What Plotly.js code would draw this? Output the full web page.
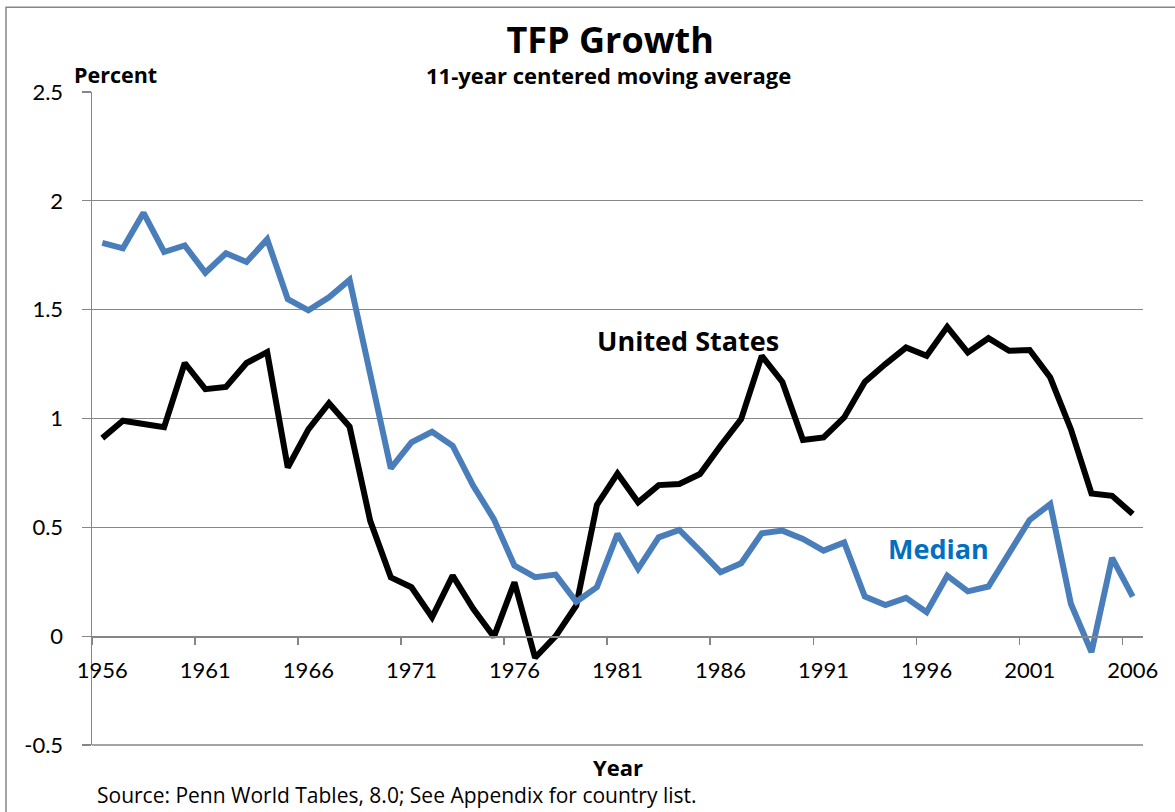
<!DOCTYPE html>
<html>
<head>
<meta charset="utf-8">
<script src="https://cdn.plot.ly/plotly-3.0.1.min.js"></script>
<style>
  html, body { margin: 0; padding: 0; background: #ffffff; }
  #chart { width: 1175px; height: 812px; }
</style>
</head>
<body>
<div id="chart"></div>
<script>
// ---- data ----
var years = [1956, 1957, 1958, 1959, 1960, 1961, 1962, 1963, 1964, 1965,
             1966, 1967, 1968, 1969, 1970, 1971, 1972, 1973, 1974, 1975,
             1976, 1977, 1978, 1979, 1980, 1981, 1982, 1983, 1984, 1985,
             1986, 1987, 1988, 1989, 1990, 1991, 1992, 1993, 1994, 1995,
             1996, 1997, 1998, 1999, 2000, 2001, 2002, 2003, 2004, 2005, 2006];

var unitedStates = [0.91, 0.99, 0.975, 0.96, 1.255, 1.135, 1.145, 1.255, 1.305, 0.775,
                    0.95, 1.07, 0.962, 0.53, 0.27, 0.225, 0.087, 0.278, 0.126, -0.003,
                    0.248, -0.099, 0.0, 0.141, 0.603, 0.747, 0.615, 0.694, 0.699, 0.745,
                    0.875, 0.997, 1.288, 1.168, 0.901, 0.913, 1.005, 1.168, 1.25, 1.326,
                    1.288, 1.421, 1.303, 1.369, 1.311, 1.315, 1.188, 0.951, 0.656, 0.645, 0.561];

var median = [1.807, 1.782, 1.945, 1.765, 1.795, 1.67, 1.759, 1.719, 1.823, 1.548,
              1.497, 1.557, 1.637, 1.2, 0.771, 0.89, 0.939, 0.875, 0.691, 0.538,
              0.324, 0.271, 0.283, 0.158, 0.225, 0.47, 0.309, 0.454, 0.488, 0.393,
              0.294, 0.335, 0.473, 0.485, 0.447, 0.393, 0.431, 0.182, 0.143, 0.176,
              0.11, 0.278, 0.206, 0.228, 0.385, 0.534, 0.607, 0.149, -0.073, 0.36, 0.182];

var xTickVals = [1956, 1961, 1966, 1971, 1976, 1981, 1986, 1991, 1996, 2001, 2006];
var xTickText = ['1956', '1961', '1966', '1971', '1976', '1981', '1986', '1991', '1996', '2001', '2006'];
var xTickMarks = [1955.5, 1960.5, 1965.5, 1970.5, 1975.5, 1980.5, 1985.5, 1990.5, 1995.5, 2000.5, 2005.5];
var yTickVals = [-0.5, 0, 0.5, 1, 1.5, 2, 2.5];
var yTickText = ['-0.5', '0', '0.5', '1', '1.5', '2', '2.5'];

// ---- styles ----
var FONT = 'Lato, "Open Sans", sans-serif';
var FONT_TXT = '"Open Sans", Lato, sans-serif';
var GRID = '#868686';
var BLUE_LINE = '#4A7EBB';
var BLUE_TEXT = '#0070C0';

var traces = [
  {
    x: years, y: median, type: 'scatter', mode: 'lines', name: 'Median',
    xaxis: 'x2', yaxis: 'y',
    line: { color: BLUE_LINE, width: 6 }
  },
  {
    x: years, y: unitedStates, type: 'scatter', mode: 'lines', name: 'United States',
    xaxis: 'x', yaxis: 'y',
    line: { color: '#000000', width: 6 }
  }
];

var yMin = -0.5, yMax = 2.5;
var zeroPos = (0 - yMin) / (yMax - yMin);

var layout = {
  width: 1175, height: 812,
  margin: { l: 92, r: 32, t: 92, b: 67, pad: 0 },
  paper_bgcolor: '#ffffff', plot_bgcolor: '#ffffff',
  showlegend: false,
  font: { family: FONT, color: '#000000', size: 22 },
  title: {
    text: '<b>TFP Growth</b>',
    font: { family: FONT_TXT, size: 36, color: '#000000' },
    xref: 'paper', x: 0.493, xanchor: 'center',
    yref: 'container', y: 1 - 40 / 812, yanchor: 'middle'
  },
  xaxis: {
    type: 'linear', range: [1955.5, 2006.5],
    anchor: 'free', position: zeroPos,
    showgrid: false, zeroline: false,
    showline: true, linecolor: GRID, linewidth: 1.5,
    tickmode: 'array', tickvals: xTickVals, ticktext: xTickText,
    ticks: 'outside', ticklen: 8, tickcolor: 'rgba(0,0,0,0)',
    ticklabelstandoff: 6,
    tickfont: { family: FONT, size: 22, color: '#000000' }
  },
  xaxis2: {
    type: 'linear', overlaying: 'x', matches: 'x', range: [1955.5, 2006.5],
    anchor: 'free', position: zeroPos,
    showgrid: false, zeroline: false, showline: false,
    tickmode: 'array', tickvals: xTickMarks,
    ticks: 'outside', ticklen: 8, tickwidth: 1.5, tickcolor: GRID,
    showticklabels: false
  },
  yaxis: {
    range: [yMin, yMax], domain: [0, 1],
    tickmode: 'array', tickvals: yTickVals, ticktext: yTickText,
    showgrid: true, gridcolor: GRID, gridwidth: 1.3,
    zeroline: false,
    showline: true, linecolor: GRID, linewidth: 1.5,
    ticks: 'outside', ticklen: 9, tickwidth: 1.3, tickcolor: GRID,
    ticklabelstandoff: 14,
    tickfont: { family: FONT, size: 22, color: '#000000' }
  },
  annotations: [
    { text: '<b>11-year centered moving average</b>', xref: 'paper', yref: 'paper',
      x: 0.4919, y: 1.0266, xanchor: 'center', yanchor: 'middle', showarrow: false,
      font: { family: FONT_TXT, size: 22, color: '#000000' } },
    { text: '<b>Percent</b>', xref: 'paper', yref: 'paper',
      x: 0.0224, y: 1.0266, xanchor: 'center', yanchor: 'middle', showarrow: false,
      font: { family: FONT_TXT, size: 21.5, color: '#000000' } },
    { text: '<b>Year</b>', xref: 'paper', yref: 'paper',
      x: 0.5, y: -0.033, xanchor: 'center', yanchor: 'middle', showarrow: false,
      font: { family: FONT_TXT, size: 22, color: '#000000' } },
    { text: 'Source: Penn World Tables, 8.0; See Appendix for country list.', xref: 'paper', yref: 'paper',
      x: 0.0029, y: -0.0765, xanchor: 'left', yanchor: 'middle', showarrow: false,
      font: { family: FONT_TXT, size: 21, color: '#000000' } },
    { text: '<b>United States</b>', xref: 'x', yref: 'y',
      x: 1984.4, y: 1.36, xanchor: 'center', yanchor: 'middle', showarrow: false,
      font: { family: FONT_TXT, size: 27, color: '#000000' } },
    { text: '<b>Median</b>', xref: 'x', yref: 'y',
      x: 1996.6, y: 0.405, xanchor: 'center', yanchor: 'middle', showarrow: false,
      font: { family: FONT_TXT, size: 27, color: BLUE_TEXT } }
  ],
  shapes: [
    { type: 'rect', xref: 'paper', yref: 'paper',
      x0: (6 - 92) / 1051, x1: 1.2, y0: -0.3, y1: (745 - 7) / 653.3,
      line: { color: GRID, width: 1.5 }, fillcolor: 'rgba(0,0,0,0)', layer: 'below' },
    { type: 'line', xref: 'paper', yref: 'paper',
      x0: 0, x1: 1, y0: 0, y1: 0,
      line: { color: GRID, width: 1.5 }, layer: 'above' }
  ]
};

Plotly.newPlot('chart', traces, layout, { displayModeBar: false, staticPlot: true });
</script>
</body>
</html>
